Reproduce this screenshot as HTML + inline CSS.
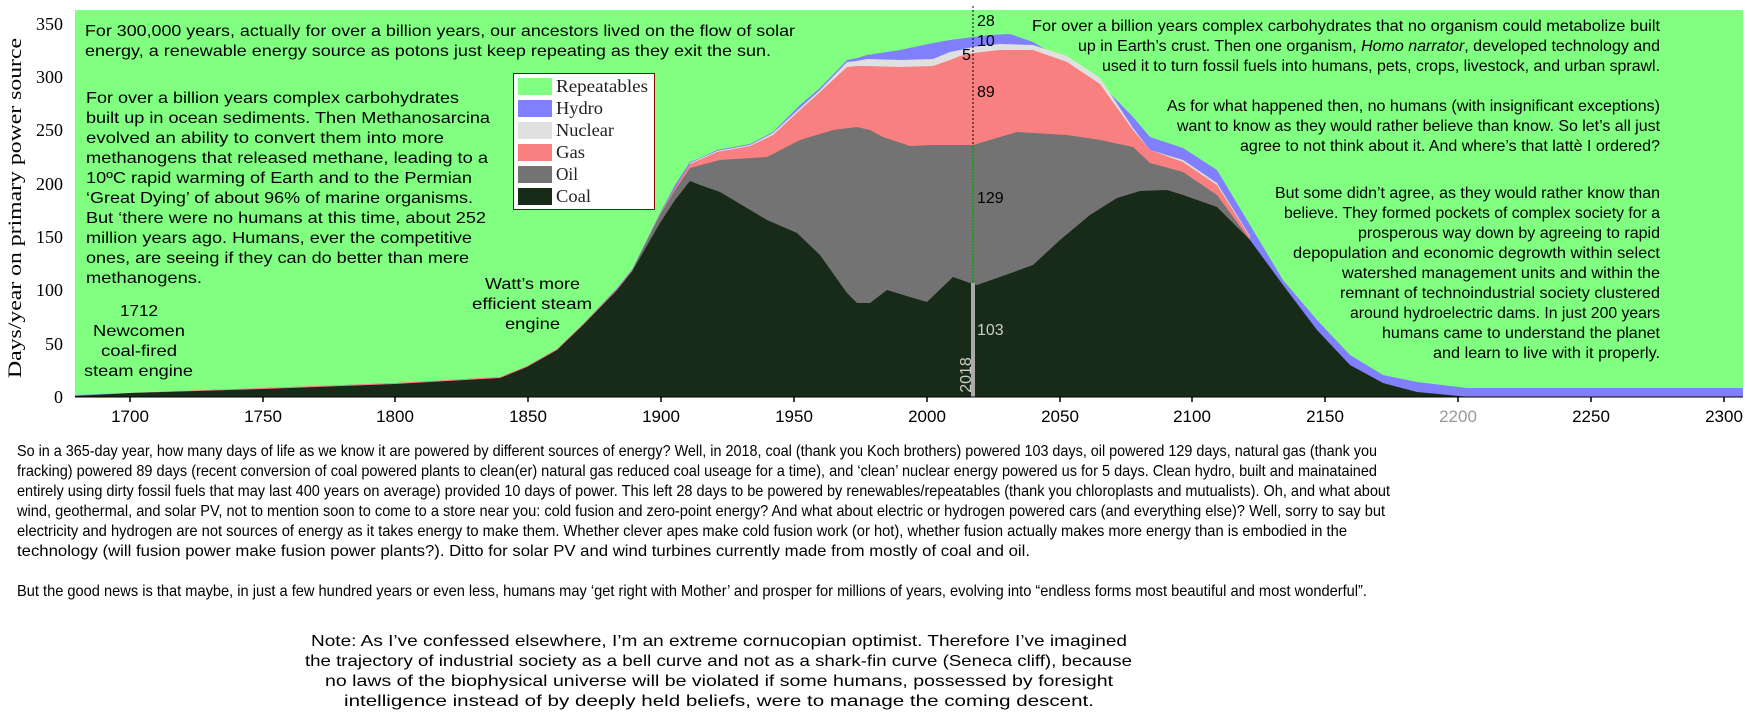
<!DOCTYPE html>
<html><head><meta charset="utf-8"><style>
html,body{margin:0;padding:0;background:#fff;}
svg{display:block;}
.t{font-family:"Liberation Sans",sans-serif;font-size:16px;fill:#000;}
.s{font-family:"Liberation Serif",serif;}
</style></head><body>
<svg width="1747" height="721" viewBox="0 0 1747 721" xmlns="http://www.w3.org/2000/svg">
<rect x="75" y="10" width="1668" height="387" fill="#80FF80"/>
<!-- hydro -->
<polygon fill="#8080FF" points="75,397 75,395 130,393 263,388 395,383 500,377 527,366 557,349 583,324 617,288 633,268 660,213 675,185 690,162 700,158 717,150 750,144 773,132 800,105 820,88 847,60 857,58 867,55 900,50 933,43 950,40 973,37 990,35 1010,34 1033,42 1067,62 1100,83 1133,117 1150,137 1183,148 1217,170 1250,225 1283,280 1317,320 1350,355 1383,375 1417,382 1467,388 1743,388 1743,397"/>
<!-- nuclear -->
<polygon fill="#E0E0E0" points="690,397 690,163 717,151 750,145 773,133 800,108 820,90 847,62 857,61 867,59 900,60 933,59 950,52 960,50 973,47 1000,44 1033,45 1067,56 1100,78 1133,128 1150,150 1183,160 1217,183 1250,236 1250,397"/>
<!-- gas -->
<polygon fill="#F88080" points="75,397 75,396 130,393 263,388 395,383 500,377 527,366 557,349 583,324 617,289 633,269 660,214 675,188 690,164 717,152 750,146 773,135 800,110 820,92 847,67 857,66 867,66 900,67 933,66 950,60 960,56 973,53 1000,50 1033,50 1067,62 1100,84 1133,130 1150,150 1183,162 1217,185 1250,237 1250,397"/>
<!-- oil -->
<polygon fill="#737373" points="600,397 633,268 660,215 675,190 690,168 720,160 767,157 800,140 833,130 857,127 870,130 883,137 910,146 933,145 973,145 1000,137 1017,132 1067,135 1100,140 1133,147 1150,163 1183,172 1217,195 1250,240 1260,397"/>
<!-- coal -->
<polygon fill="#182A18" points="75,397 75,396 130,393 263,389 395,384 500,378 527,367 557,350 583,325 617,290 633,270 660,223 675,200 690,181 700,185 720,192 767,220 797,233 820,255 847,293 857,303 870,303 887,290 910,297 927,302 953,277 970,283 977,285 1000,277 1033,265 1060,240 1090,215 1117,198 1140,191 1167,190 1183,195 1217,207 1250,240 1283,285 1317,330 1350,365 1383,383 1417,392 1470,397"/>
<!-- 2018 line -->
<line x1="973" y1="6" x2="973" y2="145" stroke="#000" stroke-width="1" stroke-dasharray="2,2"/>
<line x1="973" y1="145" x2="973" y2="283" stroke="#0a0" stroke-width="1.5" stroke-dasharray="2,1"/>
<rect x="971" y="283" width="4" height="114" fill="#aaa"/>
<text class="t" x="977" y="26">28</text>
<text class="t" x="977" y="46">10</text>
<text class="t" x="962" y="60">5</text>
<text class="t" x="977" y="97">89</text>
<text class="t" x="977" y="203">129</text>
<text class="t" x="977" y="335" style="fill:#ccc">103</text>
<text class="t" transform="translate(971,375) rotate(-90)" text-anchor="middle" style="fill:#ccc">2018</text>
<!-- axes -->
<line x1="75" y1="397" x2="1743" y2="397" stroke="#000" stroke-width="1"/>
<g stroke="#000" stroke-width="1.5">
<line x1="130" y1="397" x2="130" y2="402"/><line x1="263" y1="397" x2="263" y2="402"/><line x1="395" y1="397" x2="395" y2="402"/><line x1="528" y1="397" x2="528" y2="402"/><line x1="661" y1="397" x2="661" y2="402"/><line x1="794" y1="397" x2="794" y2="402"/><line x1="927" y1="397" x2="927" y2="402"/><line x1="1060" y1="397" x2="1060" y2="402"/><line x1="1192" y1="397" x2="1192" y2="402"/><line x1="1325" y1="397" x2="1325" y2="402"/><line x1="1458" y1="397" x2="1458" y2="402"/><line x1="1591" y1="397" x2="1591" y2="402"/><line x1="1724" y1="397" x2="1724" y2="402"/>
</g>
<g class="t" text-anchor="middle" style="font-size:17px">
<text x="130" y="422">1700</text><text x="263" y="422">1750</text><text x="395" y="422">1800</text><text x="528" y="422">1850</text><text x="661" y="422">1900</text><text x="794" y="422">1950</text><text x="927" y="422">2000</text><text x="1060" y="422">2050</text><text x="1192" y="422">2100</text><text x="1325" y="422">2150</text><text x="1458" y="422" style="fill:#999">2200</text><text x="1591" y="422">2250</text><text x="1724" y="422">2300</text>
</g>
<g class="t s" text-anchor="end" style="font-size:18px">
<text x="63" y="30">350</text><text x="63" y="83">300</text><text x="63" y="136">250</text><text x="63" y="190">200</text><text x="63" y="243">150</text><text x="63" y="296">100</text><text x="63" y="350">50</text><text x="63" y="403">0</text>
</g>
<text class="t s" transform="translate(21,208) rotate(-90)" text-anchor="middle" style="font-size:19px" textLength="340" lengthAdjust="spacingAndGlyphs">Days/year on primary power source</text>
<!-- legend -->
<rect x="513.5" y="73.5" width="141" height="136" fill="#fff" stroke="#800" stroke-width="1"/>
<rect x="518" y="78" width="34" height="17" fill="#80FF80"/>
<rect x="518" y="100" width="34" height="17" fill="#8080FF"/>
<rect x="518" y="122" width="34" height="17" fill="#E0E0E0"/>
<rect x="518" y="144" width="34" height="17" fill="#F88080"/>
<rect x="518" y="166" width="34" height="17" fill="#737373"/>
<rect x="518" y="188" width="34" height="17" fill="#182A18"/>
<g class="t s" style="font-size:18px;fill:#222">
<text x="556" y="92" textLength="92" lengthAdjust="spacingAndGlyphs">Repeatables</text>
<text x="556" y="114" textLength="47" lengthAdjust="spacingAndGlyphs">Hydro</text>
<text x="556" y="136" textLength="58" lengthAdjust="spacingAndGlyphs">Nuclear</text>
<text x="556" y="158" textLength="29" lengthAdjust="spacingAndGlyphs">Gas</text>
<text x="556" y="180" textLength="22" lengthAdjust="spacingAndGlyphs">Oil</text>
<text x="556" y="202" textLength="35" lengthAdjust="spacingAndGlyphs">Coal</text>
</g>
<!-- chart texts -->
<g class="t">
<text x="85" y="36" textLength="710" lengthAdjust="spacingAndGlyphs">For 300,000 years, actually for over a billion years, our ancestors lived on the flow of solar</text>
<text x="85" y="56" textLength="686" lengthAdjust="spacingAndGlyphs">energy, a renewable energy source as potons just keep repeating as they exit the sun.</text>
<text x="86" y="103" textLength="373" lengthAdjust="spacingAndGlyphs">For over a billion years complex carbohydrates</text>
<text x="86" y="123" textLength="404" lengthAdjust="spacingAndGlyphs">built up in ocean sediments. Then Methanosarcina</text>
<text x="86" y="143" textLength="358" lengthAdjust="spacingAndGlyphs">evolved an ability to convert them into more</text>
<text x="86" y="163" textLength="402" lengthAdjust="spacingAndGlyphs">methanogens that released methane, leading to a</text>
<text x="86" y="183" textLength="386" lengthAdjust="spacingAndGlyphs">10ºC rapid warming of Earth and to the Permian</text>
<text x="86" y="203" textLength="387" lengthAdjust="spacingAndGlyphs">‘Great Dying’ of about 96% of marine organisms.</text>
<text x="86" y="223" textLength="400" lengthAdjust="spacingAndGlyphs">But ‘there were no humans at this time, about 252</text>
<text x="86" y="243" textLength="386" lengthAdjust="spacingAndGlyphs">million years ago. Humans, ever the competitive</text>
<text x="86" y="263" textLength="383" lengthAdjust="spacingAndGlyphs">ones, are seeing if they can do better than mere</text>
<text x="86" y="283" textLength="116" lengthAdjust="spacingAndGlyphs">methanogens.</text>
<text x="120" y="316" textLength="38" lengthAdjust="spacingAndGlyphs">1712</text>
<text x="93" y="336" textLength="92" lengthAdjust="spacingAndGlyphs">Newcomen</text>
<text x="101" y="356" textLength="76" lengthAdjust="spacingAndGlyphs">coal-fired</text>
<text x="84" y="376" textLength="109" lengthAdjust="spacingAndGlyphs">steam engine</text>
<text x="485" y="289" textLength="95" lengthAdjust="spacingAndGlyphs">Watt’s more</text>
<text x="472" y="309" textLength="120" lengthAdjust="spacingAndGlyphs">efficient steam</text>
<text x="505" y="329" textLength="55" lengthAdjust="spacingAndGlyphs">engine</text>
<text x="1032" y="31" textLength="628" lengthAdjust="spacingAndGlyphs">For over a billion years complex carbohydrates that no organism could metabolize built</text>
<text x="1078" y="51" textLength="582" lengthAdjust="spacingAndGlyphs">up in Earth’s crust. Then one organism, <tspan font-style="italic">Homo narrator</tspan>, developed technology and</text>
<text x="1102" y="71" textLength="558" lengthAdjust="spacingAndGlyphs">used it to turn fossil fuels into humans, pets, crops, livestock, and urban sprawl.</text>
<text x="1167" y="111" textLength="493" lengthAdjust="spacingAndGlyphs">As for what happened then, no humans (with insignificant exceptions)</text>
<text x="1177" y="131" textLength="483" lengthAdjust="spacingAndGlyphs">want to know as they would rather believe than know. So let’s all just</text>
<text x="1240" y="151" textLength="420" lengthAdjust="spacingAndGlyphs">agree to not think about it. And where’s that lattè I ordered?</text>
<text x="1275" y="198" textLength="385" lengthAdjust="spacingAndGlyphs">But some didn’t agree, as they would rather know than</text>
<text x="1284" y="218" textLength="376" lengthAdjust="spacingAndGlyphs">believe. They formed pockets of complex society for a</text>
<text x="1358" y="238" textLength="302" lengthAdjust="spacingAndGlyphs">prosperous way down by agreeing to rapid</text>
<text x="1293" y="258" textLength="367" lengthAdjust="spacingAndGlyphs">depopulation and economic degrowth within select</text>
<text x="1342" y="278" textLength="318" lengthAdjust="spacingAndGlyphs">watershed management units and within the</text>
<text x="1340" y="298" textLength="320" lengthAdjust="spacingAndGlyphs">remnant of technoindustrial society clustered</text>
<text x="1350" y="318" textLength="310" lengthAdjust="spacingAndGlyphs">around hydroelectric dams. In just 200 years</text>
<text x="1382" y="338" textLength="278" lengthAdjust="spacingAndGlyphs">humans came to understand the planet</text>
<text x="1433" y="358" textLength="227" lengthAdjust="spacingAndGlyphs">and learn to live with it properly.</text>
</g>
<!-- bottom text -->
<g class="t" style="font-size:16px">
<text x="17" y="456" textLength="1360" lengthAdjust="spacingAndGlyphs">So in a 365-day year, how many days of life as we know it are powered by different sources of energy? Well, in 2018, coal (thank you Koch brothers) powered 103 days, oil powered 129 days, natural gas (thank you</text>
<text x="17" y="476" textLength="1360" lengthAdjust="spacingAndGlyphs">fracking) powered 89 days (recent conversion of coal powered plants to clean(er) natural gas reduced coal useage for a time), and  ‘clean’ nuclear energy powered us for 5 days. Clean hydro, built and mainatained</text>
<text x="17" y="496" textLength="1373" lengthAdjust="spacingAndGlyphs">entirely using dirty fossil fuels that may last 400 years on average) provided 10 days of power. This left 28 days to be powered by renewables/repeatables (thank you chloroplasts and mutualists). Oh, and what about</text>
<text x="17" y="516" textLength="1368" lengthAdjust="spacingAndGlyphs">wind, geothermal, and solar PV, not to mention soon to come to a store near you: cold fusion  and zero-point energy? And what about electric or hydrogen powered cars (and everything else)? Well, sorry to say but</text>
<text x="17" y="536" textLength="1330" lengthAdjust="spacingAndGlyphs">electricity and hydrogen are not sources of energy as it takes energy to make them. Whether clever apes make cold fusion work (or hot), whether fusion actually makes more energy than is embodied in the</text>
<text x="17" y="556" textLength="1013" lengthAdjust="spacingAndGlyphs">technology (will fusion power make fusion power plants?). Ditto for solar PV and wind turbines currently made from mostly of coal and oil.</text>
<text x="17" y="596" textLength="1350" lengthAdjust="spacingAndGlyphs">But the good news is that maybe, in just a few hundred years or even less, humans may ‘get right with Mother’ and prosper for millions of years, evolving into “endless forms most beautiful and most wonderful”.</text>
<text x="311" y="646" textLength="816" lengthAdjust="spacingAndGlyphs">Note: As I’ve confessed elsewhere, I’m an  extreme cornucopian optimist. Therefore I’ve imagined</text>
<text x="305" y="666" textLength="827" lengthAdjust="spacingAndGlyphs">the trajectory of industrial society as a bell curve and not as a shark-fin curve (Seneca cliff), because</text>
<text x="325" y="686" textLength="788" lengthAdjust="spacingAndGlyphs">no laws of the biophysical universe will be violated if some humans, possessed by foresight</text>
<text x="344" y="706" textLength="750" lengthAdjust="spacingAndGlyphs">intelligence instead of by deeply held beliefs, were to manage the coming descent.</text>
</g>
</svg>
</body></html>
